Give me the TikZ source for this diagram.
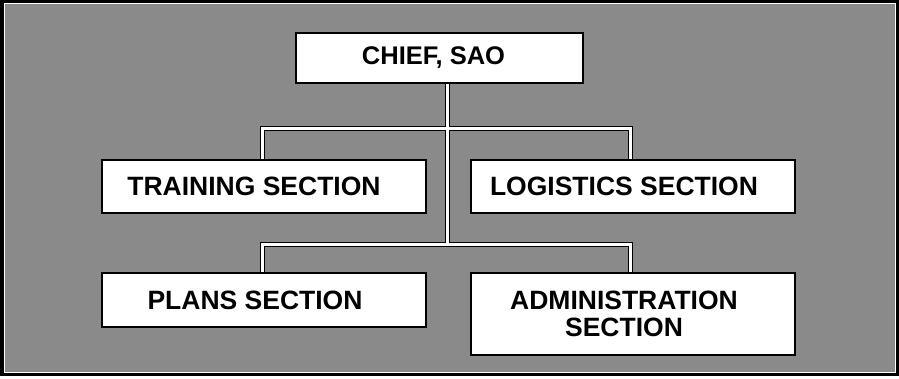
\documentclass[tikz,border=0pt]{standalone}
\usepackage{fontspec}
\setmainfont{Liberation Sans}
\usetikzlibrary{backgrounds}
\definecolor{bggray}{RGB}{138,138,138}
\tikzset{
  orgbox/.style={draw=black, line width=2pt, fill=white, inner sep=0pt,
    minimum width=324pt, font=\fontsize{26.5}{27}\selectfont\bfseries, align=center},
  linkouter/.style={draw=black, line width=5pt},
  linkinner/.style={draw=white, line width=3pt},
}
\begin{document}
\begin{tikzpicture}[x=1pt,y=-1pt]
\useasboundingbox (0,0) rectangle (899,378);
% boxes
\node[orgbox, minimum width=287pt, minimum height=50pt, font=\fontsize{25.5}{27}\selectfont\bfseries] (chief) at (439.5,58) {CHIEF, SAO\hspace*{12pt}};
\node[orgbox, minimum height=53pt] (train) at (264,186.5) {TRAINING SECTION\hspace*{20pt}};
\node[orgbox, minimum height=53pt] (logi) at (633,186.5) {LOGISTICS SECTION\hspace*{18pt}};
\node[orgbox, minimum height=54pt] (plans) at (264,300) {PLANS SECTION\hspace*{18pt}};
\node[orgbox, minimum height=82pt] (admin) at (633,314) {ADMINISTRATION\hspace*{18pt}\\SECTION\hspace*{18pt}};
\coordinate (j1) at (447,128);
\coordinate (j2) at (447,244);
\coordinate (l1) at (262,128);
\coordinate (r1) at (630,128);
\coordinate (l2) at (262,244);
\coordinate (r2) at (630,244);
\begin{scope}[on background layer]
  \fill[white] (0,0) rectangle (899,378);
  \fill[black] (0,0) rectangle (899,376);
  \fill[white] (4,3) rectangle (896,373);
  \fill[bggray] (5,4) rectangle (895,372);
  \foreach \st in {linkouter,linkinner}{
    \draw[\st] (chief.south -| j1) -- (j2);
    \draw[\st] (train.north -| l1) -- (l1) -- (r1) -- (logi.north -| r1);
    \draw[\st] (plans.north -| l2) -- (l2) -- (r2) -- (admin.north -| r2);
  }
\end{scope}
\end{tikzpicture}
\end{document}
